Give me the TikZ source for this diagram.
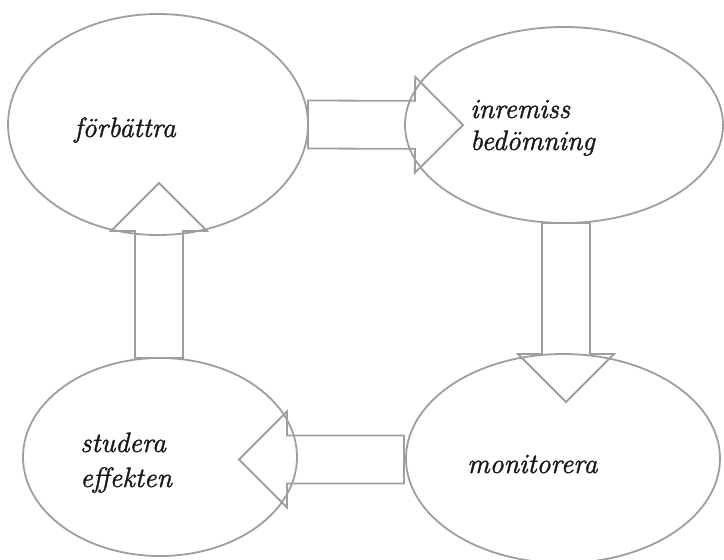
\documentclass[tikz,border=0pt]{standalone}
\usepackage{fontspec}
\newfontfamily\lblfont{Latin Modern Roman}[ItalicFeatures={FakeBold=1.4}]
\usetikzlibrary{calc,shapes.geometric}
\definecolor{linegray}{RGB}{158,158,158}
\definecolor{txt}{RGB}{25,25,25}
\tikzset{
  ell/.style={ellipse, draw=linegray, line width=1.8pt, inner sep=0pt, outer sep=0pt},
  barrow/.style={draw=linegray, line width=1.8pt, line join=miter},
  lbl/.style={anchor=base west, inner sep=0pt, text=txt, font=\lblfont\fontsize{28}{33}\selectfont\itshape}
}
\newcommand\blockarrow[2]{%
  \coordinate (#2b) at ($(#2)!48pt!(#1)$);
  \draw[barrow] ($(#1)!24pt!90:(#2)$) -- ($(#2b)!24pt!-90:(#1)$) -- ($(#2b)!48pt!-90:(#1)$)
    -- (#2) -- ($(#2b)!48pt!90:(#1)$) -- ($(#2b)!24pt!90:(#1)$) -- ($(#1)!24pt!-90:(#2)$) -- cycle;
}
\begin{document}
\begin{tikzpicture}[x=1pt,y=-1pt]
\useasboundingbox (0,0) rectangle (724,560);
% ellipses
\node[ell, minimum width=300pt, minimum height=221pt] (e1) at (158,124.5) {};
\node[ell, minimum width=318pt, minimum height=196pt] (e2) at (564,125) {};
\node[ell, minimum width=314pt, minimum height=209pt] (e3) at (563,458.5) {};
\node[ell, minimum width=274pt, minimum height=198pt] (e4) at (160,457) {};
% labels
\node[lbl] (l1) at (74,137) {förbättra};
\node[lbl] (l2a) at (470,118) {inremiss};
\node[lbl] (l2b) at (470,150) {bedömning};
\node[lbl] (l3) at (467,473) {monitorera};
\node[lbl] (l4a) at (80,452) {studera};
\node[lbl] (l4b) at (80,487) {effekten};
% arrow endpoints
\coordinate (s1) at (e1.east);
\coordinate (t1) at (463,125);
\coordinate (s2) at ($(e2.south)+(2,0)$);
\coordinate (t2) at (566,402);
\coordinate (s3) at ($(e3.west)+(-2,1)$);
\coordinate (t3) at (239,459.5);
\coordinate (s4) at ($(e4.north)+(-1,0)$);
\coordinate (t4) at (159,183);
\blockarrow{s1}{t1}
\blockarrow{s2}{t2}
\blockarrow{s3}{t3}
\blockarrow{s4}{t4}
\end{tikzpicture}
\end{document}
